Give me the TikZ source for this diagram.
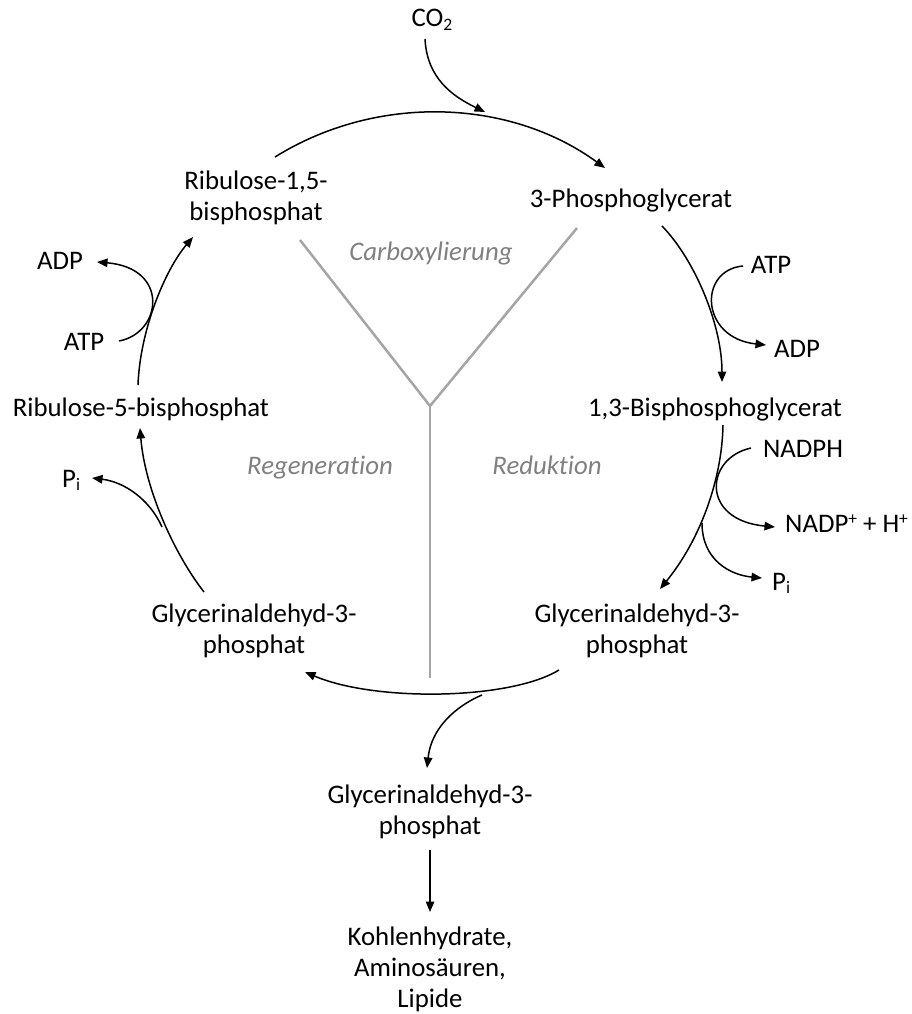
\documentclass[tikz,border=0pt]{standalone}
\usepackage{fontspec}
\setmainfont[Ligatures=NoCommon]{Carlito}
\usetikzlibrary{arrows.meta}
\definecolor{linegray}{RGB}{165,165,165}
\definecolor{phasegray}{RGB}{128,128,128}
\newcommand\subsc[1]{\raisebox{-0.3ex}{\fontsize{17.5}{17.5}\selectfont #1}}
\newcommand\supsc[1]{\raisebox{0.6ex}{\fontsize{17.5}{17.5}\selectfont #1}}
\begin{document}
\begin{tikzpicture}[x=1pt,y=-1pt,
  lbl/.style={font=\fontsize{26.8}{31}\selectfont, inner sep=0pt, align=center, anchor=base},
  phase/.style={font=\fontsize{26.8}{31}\selectfont\itshape, text=phasegray, inner sep=0pt, anchor=base},
  flow/.style={line width=1.5pt, -{Triangle[length=10.5pt,width=8.5pt]}},
  yline/.style={draw=linegray, line width=2.5pt}]
\useasboundingbox (0,0) rectangle (911,1014);

% labels (multi-line nodes: base = baseline of last line)
\node[lbl] (co2) at (432,27) {CO\subsc{2}};
\node[lbl] (rubp) at (256,220) {Ribulose-1,5-\\bisphosphat};
\node[lbl] (pga) at (631,207) {3-Phosphoglycerat};
\node[lbl] (bpg) at (715,416) {1,3-Bisphosphoglycerat};
\node[lbl] (atpR) at (771,273) {ATP};
\node[lbl] (adpR) at (797,357) {ADP};
\node[lbl] (nadph) at (803,457) {NADPH};
\node[lbl, anchor=base west] (nadp) at (785,532) {NADP\supsc{+} + H\supsc{+}};
\node[lbl, anchor=base west] (piR) at (772,590) {P\subsc{i}};
\node[lbl] (g3pR) at (637,653) {Glycerinaldehyd-3-\\phosphat};
\node[lbl] (g3pL) at (254,653) {Glycerinaldehyd-3-\\phosphat};
\node[lbl] (g3pB) at (430,834) {Glycerinaldehyd-3-\\phosphat};
\node[lbl] (prod) at (430,1007) {Kohlenhydrate,\\Aminosäuren,\\Lipide};
\node[lbl] (ru5p) at (141,416) {Ribulose-5-bisphosphat};
\node[lbl] (adpL) at (60,269) {ADP};
\node[lbl] (atpL) at (84,350) {ATP};
\node[lbl, anchor=base west] (piL) at (62,487) {P\subsc{i}};
\node[phase] (carb) at (431,260) {Carboxylierung};
\node[phase] (regen) at (320,474) {Regeneration};
\node[phase] (red) at (547,474) {Reduktion};

% gray Y
\coordinate (yl) at (300,240);
\coordinate (yr) at (577,228);
\coordinate (yj) at (430,406);
\coordinate (yb) at (430,678);
\draw[yline] (yl) -- (yj) -- (yr);
\draw[yline] (yj) -- (yb);

% connector end points
\coordinate (t1) at (275,157);  \coordinate (t2) at (605,168);
\coordinate (c1) at (425,39);   \coordinate (c2) at (485,112);
\coordinate (r1) at (662,226);  \coordinate (r2) at (722,382);
\coordinate (a1) at (743,266);  \coordinate (a2) at (766,345);
\coordinate (s1) at (723,425);  \coordinate (s2) at (660,589);
\coordinate (n1) at (751,448);  \coordinate (n2) at (775,527);
\coordinate (p1) at (702,523);  \coordinate (p2) at (762,578);
\coordinate (b1) at (559,670);  \coordinate (b2) at (305,672);
\coordinate (d1) at (482,695);  \coordinate (d2) at (427,768);
\coordinate (l1) at (204,592);  \coordinate (l2) at (140,428);
\coordinate (q1) at (162,527);  \coordinate (q2) at (92,478);
\coordinate (u1) at (138,385);  \coordinate (u2) at (193,237);
\coordinate (e1) at (119,341);  \coordinate (e2) at (97,262);
\coordinate (g1) at (430,850);  \coordinate (g2) at (430,912);

% connectors
\draw[flow] (t1) .. controls (376,94) and (509,98) .. (t2);
\draw[flow] (c1) .. controls (427,78) and (452,96) .. (c2);
\draw[flow] (r1) .. controls (695,260) and (722,325) .. (r2);
\draw[flow] (a1) .. controls (698,270) and (700,338) .. (a2);
\draw[flow] (s1) .. controls (722,480) and (700,540) .. (s2);
\draw[flow] (n1) .. controls (705,458) and (700,520) .. (n2);
\draw[flow] (p1) .. controls (702,560) and (730,575) .. (p2);
\draw[flow] (b1) .. controls (510,700) and (375,702) .. (b2);
\draw[flow] (d1) .. controls (465,702) and (432,722) .. (d2);
\draw[flow] (l1) .. controls (175,555) and (145,490) .. (l2);
\draw[flow] (q1) .. controls (150,500) and (125,482) .. (q2);
\draw[flow] (u1) .. controls (140,330) and (165,270) .. (u2);
\draw[flow] (e1) .. controls (162,333) and (170,268) .. (e2);
\draw[flow] (g1) -- (g2);
\end{tikzpicture}
\end{document}
